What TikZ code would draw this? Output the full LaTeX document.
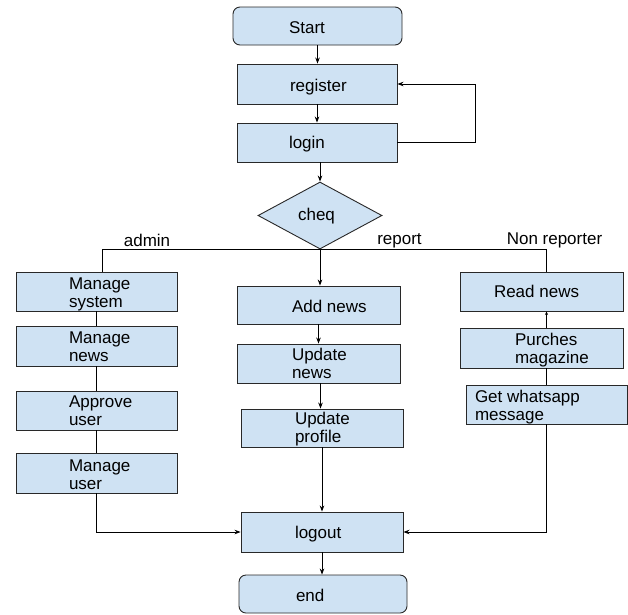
\documentclass[tikz,border=0pt]{standalone}
\usepackage{fontspec}
\setmainfont{Liberation Sans}
\usetikzlibrary{shapes.geometric,arrows.meta}
\definecolor{boxblue}{RGB}{207,226,243}
\definecolor{edgegray}{RGB}{40,40,40}
\newcommand{\boxtxt}[4]{\makebox[#1][l]{\hspace*{#2}\raisebox{#3}{\begin{tabular}[t]{@{}l@{}}#4\end{tabular}}}}
\begin{document}
\begin{tikzpicture}[x=1pt,y=-1pt,
  pbox/.style={draw=edgegray, fill=boxblue, line width=0.9pt, inner sep=0pt,
    text height=0pt, text depth=0pt, font=\fontsize{17}{18}\selectfont},
  rbox/.style={pbox, rounded corners=7pt},
  dbox/.style={pbox, diamond, minimum width=124pt, minimum height=67pt},
  lbl/.style={font=\fontsize{17}{18}\selectfont, inner sep=0pt},
  conn/.style={line width=0.8pt, black},
  arr/.style={conn, -{Stealth[length=6pt,width=4.5pt]}},
  smallarr/.style={conn, -{Stealth[length=3.5pt,width=3pt]}}]
\useasboundingbox (0,0) rectangle (628,614);
\fill[white] (0,0) rectangle (628,614);
% top
\node[rbox, minimum width=169pt, minimum height=38pt] (start) at (317.5,26) {\boxtxt{169pt}{56pt}{-7pt}{Start}};
\node[pbox, minimum width=160pt, minimum height=40pt] (register) at (317,84) {\boxtxt{160pt}{53pt}{-7pt}{register}};
\node[pbox, minimum width=160pt, minimum height=39pt] (login) at (317,142.5) {\boxtxt{160pt}{52pt}{-6pt}{login}};
\node[dbox] (cheq) at (320,215.5) {\hspace*{-7pt}\raisebox{-4.5pt}{cheq}};
% labels
\node[lbl, anchor=base] (ladmin) at (147,246) {admin};
\node[lbl, anchor=base] (lreport) at (399.5,244) {report};
\node[lbl, anchor=base] (lnon) at (554.5,244) {Non reporter};
% left column
\node[pbox, minimum width=161pt, minimum height=39pt] (msys) at (96.5,291.5) {\boxtxt{161pt}{53pt}{2pt}{Manage\\system}};
\node[pbox, minimum width=161pt, minimum height=40pt] (mnews) at (96.5,346) {\boxtxt{161pt}{53pt}{3pt}{Manage\\news}};
\node[pbox, minimum width=161pt, minimum height=39pt] (appr) at (96.5,410.5) {\boxtxt{161pt}{53pt}{3.5pt}{Approve\\user}};
\node[pbox, minimum width=161pt, minimum height=40pt] (muser) at (96.5,473) {\boxtxt{161pt}{53pt}{1.5pt}{Manage\\user}};
% centre column
\node[pbox, minimum width=163pt, minimum height=38pt] (addn) at (318.5,305) {\boxtxt{163pt}{55pt}{-7pt}{Add news}};
\node[pbox, minimum width=163pt, minimum height=39pt] (updn) at (318.5,363.5) {\boxtxt{163pt}{55pt}{3pt}{Update\\news}};
\node[pbox, minimum width=162pt, minimum height=38pt] (updp) at (322,428) {\boxtxt{162pt}{54pt}{4pt}{Update\\profile}};
% right column
\node[pbox, minimum width=163pt, minimum height=39pt] (readn) at (541.5,291.5) {\boxtxt{163pt}{34pt}{-5.5pt}{Read news}};
\node[pbox, minimum width=163pt, minimum height=40pt] (purch) at (541.5,348) {\boxtxt{163pt}{55pt}{3pt}{Purches\\magazine}};
\node[pbox, minimum width=161pt, minimum height=39pt] (whats) at (546.5,404.5) {\boxtxt{161pt}{9pt}{2.5pt}{Get whatsapp\\message}};
% bottom
\node[pbox, minimum width=162pt, minimum height=40pt] (logout) at (322,532) {\boxtxt{162pt}{54pt}{-6pt}{logout}};
\node[rbox, minimum width=168pt, minimum height=38pt] (end) at (323,594) {\boxtxt{168pt}{57pt}{-7pt}{end}};
% connectors
\coordinate (loopc) at (475,142.5);
\draw[arr] (start.south) -- (start.south |- register.north);
\draw[arr] (register) -- (login);
\draw[arr] (cheq.north |- login.south) -- (cheq.north);
\draw[arr] (login.east) -- (loopc) |- (register.east);
\draw[arr] (cheq.south) -- (cheq.south |- addn.north);
\draw[conn] (cheq.south) -| ([xshift=5.5pt]msys.north);
\draw[conn] (cheq.south) -| (whats.north |- readn.north);
\draw[conn] (msys) -- (mnews);
\draw[conn] (mnews) -- (appr);
\draw[conn] (appr) -- (muser);
\draw[arr] (muser.south) |- (logout.west);
\draw[arr] (addn) -- (updn);
\draw[arr] ([xshift=2pt]updn.south) -- ([xshift=2pt]updn.south |- updp.north);
\draw[arr] (updp) -- (logout);
\draw[arr] (logout.south) -- (logout.south |- end.north);
\draw[smallarr] (whats.south |- purch.north) -- (whats.south |- readn.south);
\draw[conn] (whats.south |- purch.south) -- (whats.north);
\draw[arr] (whats.south) |- (logout.east);
\end{tikzpicture}
\end{document}
